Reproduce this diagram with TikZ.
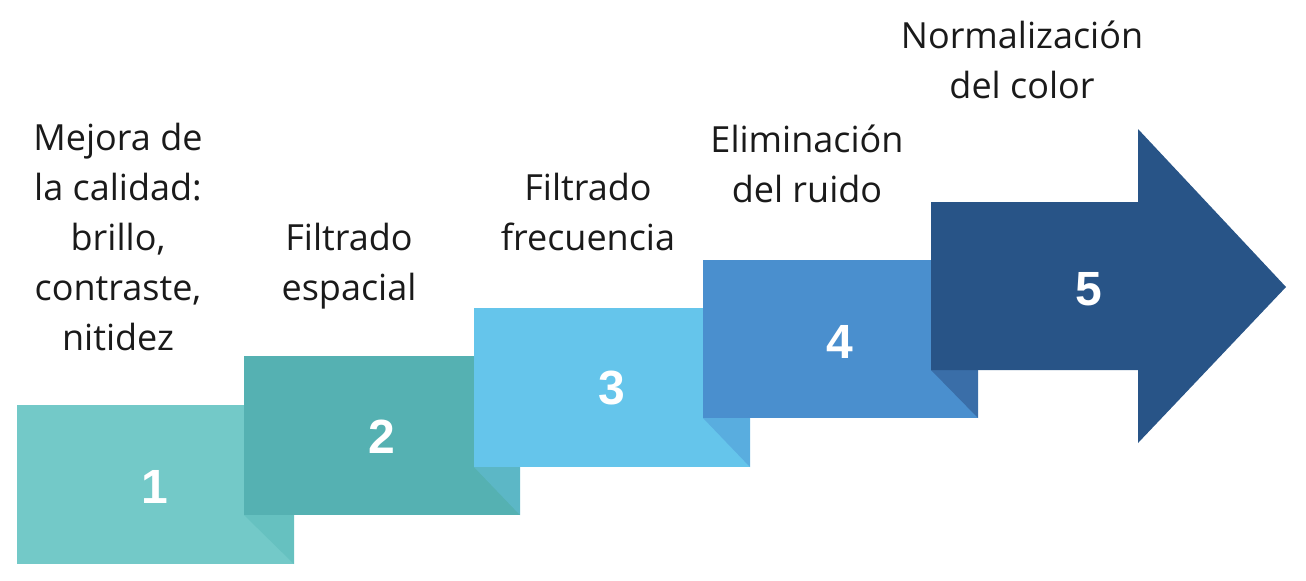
\documentclass[tikz,border=0pt]{standalone}
\usepackage{fontspec}
\setmainfont{Open Sans}
\newfontfamily\numfont{Liberation Sans}
\usetikzlibrary{calc}

\definecolor{stepA}{HTML}{73C9C8}
\definecolor{foldA}{HTML}{66C1C0}
\definecolor{stepB}{HTML}{55B1B2}
\definecolor{foldB}{HTML}{5CB7C6}
\definecolor{stepC}{HTML}{65C5EB}
\definecolor{foldC}{HTML}{59ADDF}
\definecolor{stepD}{HTML}{4A8FCE}
\definecolor{foldD}{HTML}{3A6EA8}
\definecolor{stepE}{HTML}{285487}
\definecolor{labeltext}{HTML}{1A1A1A}

\tikzset{
  stepnum/.style={text=white, font=\numfont\bfseries\fontsize{24}{24}\selectfont},
  % base anchor sits on the last line
  steptext/.style={anchor=base, align=center, text=labeltext,
    inner sep=0pt, font=\fontsize{18}{25}\selectfont}
}

\begin{document}
\begin{tikzpicture}[x=0.5pt, y=-0.5pt]
    \useasboundingbox (0,0) rectangle (1306,580);

    % steps
    \fill [stepA] (17,405) rectangle (294,564);
    \fill [foldA] (244,515) -- (294,515) -- (294,564) -- cycle;
    \fill [stepB] (244,356) rectangle (520,515);
    \fill [foldB] (474,467) -- (520,467) -- (520,515) -- cycle;
    \fill [stepC] (474,308) rectangle (750,467);
    \fill [foldC] (703,418) -- (750,418) -- (750,467) -- cycle;
    \fill [stepD] (703,260) rectangle (978,418);
    \fill [foldD] (931,370) -- (978,370) -- (978,418) -- cycle;
    \fill [stepE] (931,202) -- (1138,202) -- (1138,129) -- (1286,287)
      -- (1138,443) -- (1138,370) -- (931,370) -- cycle;

    % numbers
    \node [stepnum] (n1) at (155,487) {1};
    \node [stepnum] (n2) at (382,437) {2};
    \node [stepnum] (n3) at (612,388) {3};
    \node [stepnum] (n4) at (840,342) {4};
    \node [stepnum] (n5) at (1089,289) {5};

    % labels
    \node [steptext] (t1) at (118,350) {Mejora de\\la calidad:\\brillo,\\contraste,\\nitidez};
    \node [steptext] (t2) at (349,300) {Filtrado\\espacial};
    \node [steptext] (t3) at (588,250) {Filtrado\\frecuencia};
    \node [steptext] (t4) at (807,202) {Eliminación\\del ruido};
    \node [steptext] (t5) at (1022,98) {Normalización\\del color};
\end{tikzpicture}
\end{document}
